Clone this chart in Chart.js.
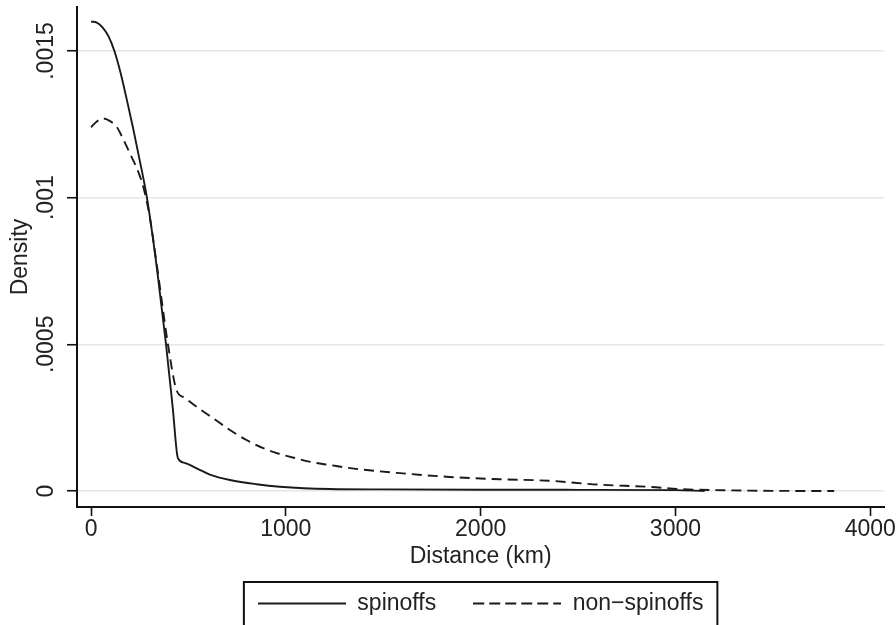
<!DOCTYPE html>
<html>
<head>
<meta charset="utf-8">
<script src="https://cdn.jsdelivr.net/npm/chart.js@4.4.0/dist/chart.umd.min.js"></script>
<style>
    html, body { margin: 0; padding: 0; background: #fff; overflow: hidden; }
</style>
</head>
<body>
<canvas id="densityChart" width="896" height="625"></canvas>
<script>
    // kernel density
    const spinoffDistance = [0, 30, 60, 90, 120, 150, 185, 215, 246, 287, 340, 385, 420, 446, 480, 542, 610, 713, 850, 969,
        1226, 1500, 2000, 2500, 3000, 3150];
    const spinoffDensity = [0.00160, 0.001597, 0.00158, 0.00155, 0.00150, 0.00143, 0.00133, 0.00124, 0.00114, 0.00100,
        0.00075, 0.00050, 0.00028, 0.000112, 0.000096, 0.0000774, 0.000056, 0.0000375, 0.000023, 0.0000146, 0.0000068,
        0.0000055, 0.0000045, 0.000004, 0.000003, 0.0];

    const nonSpinoffDistance = [0, 30, 62, 100, 133, 165, 200, 235, 267, 300, 340, 395, 439, 480, 542, 627, 713, 798, 884,
        969, 1055, 1138, 1226, 1330, 1585, 1840, 2100, 2350, 2600, 2870, 3020, 3430, 3815];
    const nonSpinoffDensity = [0.00124, 0.00126, 0.00127, 0.00126, 0.00124, 0.00120, 0.00115, 0.00110, 0.00104, 0.00094,
        0.00076, 0.00050, 0.000344, 0.000318, 0.000287, 0.000248, 0.000208, 0.000174, 0.000146, 0.000126, 0.000111,
        0.0000977, 0.0000886, 0.000078, 0.000061, 0.000048, 0.00004, 0.000035, 0.000022, 0.000014, 0.0000068,
        0.000001, 0.0];

    const xTicks = [0, 1000, 2000, 3000, 4000];
    const xTickLabels = ["0", "1000", "2000", "3000", "4000"];
    const yTicks = [0, 0.0005, 0.001, 0.0015];
    const yTickLabels = ["0", ".0005", ".001", ".0015"];

    const fontFamily = '"Liberation Sans", Arial, sans-serif';
    const textColor = "#222";
    const lineColor = "#1a1a1a";

    function toPoints(xs, ys) {
        return xs.map((x, i) => ({ x: x, y: ys[i] }));
    }

    // legend sample: a short stroke, solid or dashed
    function legendStroke(dash) {
        const c = document.createElement("canvas");
        c.width = 88;
        c.height = 4;
        const g = c.getContext("2d");
        g.strokeStyle = lineColor;
        g.lineWidth = 1.8;
        g.setLineDash(dash);
        g.beginPath();
        g.moveTo(0, 2);
        g.lineTo(88, 2);
        g.stroke();
        return c;
    }

    // y labels are vertical in the original, draw them by hand
    const yTickLabelPlugin = {
        id: "yTickLabels",
        afterDraw(chart) {
            const ctx = chart.ctx;
            const yScale = chart.scales.y;
            ctx.save();
            ctx.font = "23px " + fontFamily;
            ctx.fillStyle = textColor;
            ctx.textAlign = "center";
            ctx.textBaseline = "alphabetic";
            yTicks.forEach((v, i) => {
                const y = yScale.getPixelForValue(v);
                ctx.save();
                ctx.translate(53, y);
                ctx.rotate(-Math.PI / 2);
                ctx.fillText(yTickLabels[i], 0, 0);
                ctx.restore();
            });
            ctx.restore();
        }
    };

    const legendFramePlugin = {
        id: "legendFrame",
        afterDraw(chart) {
            const boxes = chart.legend.legendHitBoxes;
            if (!boxes || !boxes.length) return;
            const left = Math.min(...boxes.map(b => b.left)) - 14;
            const right = Math.max(...boxes.map(b => b.left + b.width)) + 14;
            const top = Math.min(...boxes.map(b => b.top)) - 10;
            const ctx = chart.ctx;
            ctx.save();
            ctx.strokeStyle = "#111";
            ctx.lineWidth = 2;
            ctx.strokeRect(left, top, right - left, 80);
            ctx.restore();
        }
    };

    const ctx = document.getElementById("densityChart").getContext("2d");

    new Chart(ctx, {
        type: "line",
        data: {
            datasets: [{
                label: "spinoffs",
                data: toPoints(spinoffDistance, spinoffDensity),
                borderColor: lineColor,
                borderWidth: 1.9,
                pointRadius: 0,
                pointStyle: legendStroke([]),
                cubicInterpolationMode: "monotone",
                fill: false
            }, {
                label: "non\u2212spinoffs",
                data: toPoints(nonSpinoffDistance, nonSpinoffDensity),
                borderColor: lineColor,
                borderWidth: 1.9,
                borderDash: [10, 6],
                pointRadius: 0,
                pointStyle: legendStroke([11, 5]),
                cubicInterpolationMode: "monotone",
                fill: false
            }]
        },
        options: {
            responsive: false,
            animation: false,
            layout: {
                padding: { top: 7, right: 11, left: 0, bottom: 0 }
            },
            font: { family: fontFamily, size: 23 },
            color: textColor,
            plugins: {
                legend: {
                    position: "bottom",
                    fullSize: false,
                    labels: {
                        usePointStyle: true,
                        pointStyleWidth: 88,
                        padding: 37,
                        color: textColor,
                        font: { family: fontFamily, size: 23 }
                    }
                },
                tooltip: { enabled: false }
            },
            scales: {
                x: {
                    type: "linear",
                    min: -72,
                    max: 4072,
                    afterBuildTicks: (scale) => {
                        scale.ticks = xTicks.map(v => ({ value: v }));
                    },
                    afterFit: (scale) => {
                        scale.height = 48;
                    },
                    grid: {
                        drawOnChartArea: false,
                        tickLength: 9,
                        tickColor: "#111",
                        tickWidth: 1.6
                    },
                    border: { display: true, color: "#111", width: 2 },
                    ticks: {
                        padding: 0,
                        color: textColor,
                        font: { family: fontFamily, size: 23 },
                        maxRotation: 0,
                        callback: (value) => xTickLabels[xTicks.indexOf(value)]
                    },
                    title: {
                        display: true,
                        text: "Distance (km)",
                        color: textColor,
                        font: { family: fontFamily, size: 23 },
                        padding: { top: 0, bottom: -15 }
                    }
                },
                y: {
                    type: "linear",
                    min: -0.0000545,
                    max: 0.00165,
                    afterBuildTicks: (scale) => {
                        scale.ticks = yTicks.map(v => ({ value: v }));
                    },
                    afterFit: (scale) => {
                        scale.width = 77;
                    },
                    grid: {
                        color: "#e6e6e6",
                        lineWidth: 1.5,
                        tickLength: 10,
                        tickColor: "#111",
                        tickWidth: 1.6
                    },
                    border: { display: true, color: "#111", width: 2 },
                    ticks: { display: false },
                    title: {
                        display: true,
                        text: "Density",
                        color: textColor,
                        font: { family: fontFamily, size: 23 },
                        padding: { top: 7, bottom: 0 }
                    }
                }
            }
        },
        plugins: [yTickLabelPlugin, legendFramePlugin]
    });
</script>
</body>
</html>
